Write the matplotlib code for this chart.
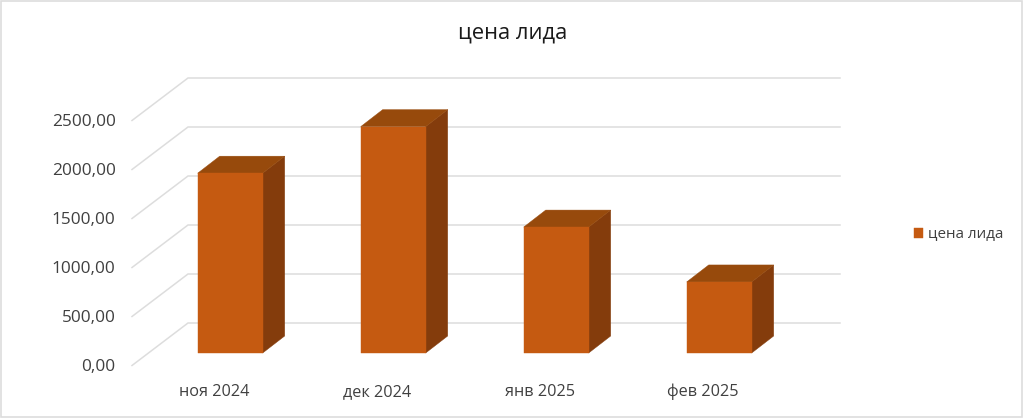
import matplotlib
matplotlib.use("Agg")
import matplotlib.pyplot as plt
from matplotlib.patches import Polygon, Rectangle, Patch

title = "цена лида"
categories = ["ноя 2024", "дек 2024", "янв 2025", "фев 2025"]
values = [1835, 2310, 1285, 725]
y_ticks = [0, 500, 1000, 1500, 2000, 2500]
y_labels = ["0,00", "500,00", "1000,00", "1500,00", "2000,00", "2500,00"]

W, H = 1024, 418
FRONT, TOP, SIDE = "#C55A11", "#974A0C", "#843C0C"
GRID, TXT = "#DDDDDD", "#404040"

fig = plt.figure(figsize=(W / 100, H / 100), dpi=100)
ax = fig.add_axes([0, 0, 1, 1])
ax.axis("off")

# data scales: one category = 163 px, 500 units = 49 px
PX_X, PX_Y = 163.0, 49.0 / 500
ORIGIN_X, ORIGIN_Y = 230.2, 353.0
ax.set_xlim(-ORIGIN_X / PX_X, (W - ORIGIN_X) / PX_X)
ax.set_ylim(-(H - ORIGIN_Y) / PX_Y, ORIGIN_Y / PX_Y)


def X(px):
    return (px - ORIGIN_X) / PX_X


def dy(px):
    return px / PX_Y


# frame
fig.add_artist(Rectangle((0.5 / W, 1.5 / H), (W - 2.5) / W, (H - 2.5) / H, transform=fig.transFigure,
                         fill=False, edgecolor=GRID, lw=1.2))

# gridlines: front-left diagonal then the back wall
for v, lab in zip(y_ticks, y_labels):
    y_front = v + dy(-12.5)
    y_back = v + dy(30)
    ax.plot([X(132), X(188), X(840)], [y_front, y_back, y_back], color=GRID, lw=1.1,
            solid_joinstyle="miter", zorder=1)
    ax.text(X(115.5), y_front + dy(-1.5), lab, ha="right", va="center", color=TXT,
            fontsize=12.4, family="Open Sans")

# bars
half = 32.5 / PX_X
ddx, ddy = 22 / PX_X, dy(17)
for i, (v, cat) in enumerate(zip(values, categories)):
    l, r = i - half, i + half
    ax.add_patch(Polygon([(r, 0), (r + ddx, ddy), (r + ddx, v + ddy), (r, v)], fc=SIDE, ec=SIDE, lw=0.3, zorder=3))
    ax.add_patch(Polygon([(l, v), (r, v), (r + ddx, v + ddy), (l + ddx, v + ddy)], fc=TOP, ec=TOP, lw=0.3, zorder=3))
    ax.add_patch(Rectangle((l, 0), r - l, v, fc=FRONT, ec=FRONT, lw=0.3, zorder=4))
    ax.text(i - 16.5 / PX_X, dy(353 - 396), cat, ha="center", va="baseline", color=TXT,
            fontsize=11.7, family="Open Sans")

ax.text(X(512.5), dy(353 - 39), title, ha="center", va="baseline", color="#1a1a1a",
        fontsize=15.8, family="Open Sans")

leg = ax.legend(handles=[Patch(fc=FRONT, ec=FRONT, lw=0.3, label=title)], loc="center left",
                bbox_to_anchor=(909 / W, 1 - 234.5 / H), frameon=False,
                prop={"family": "Open Sans", "size": 10.9}, labelcolor=TXT,
                handlelength=0.62, handleheight=0.62, handletextpad=0.36,
                borderpad=0, borderaxespad=0.3)

fig.savefig("out.png", dpi=100)
